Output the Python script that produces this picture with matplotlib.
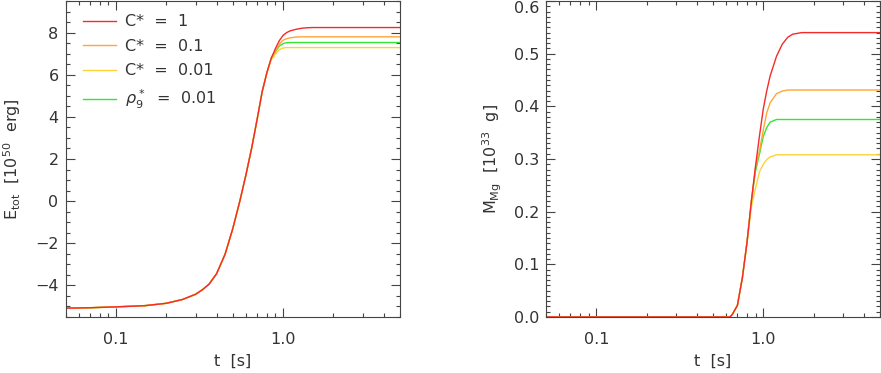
import matplotlib
matplotlib.use('Agg')
import matplotlib.pyplot as plt
import numpy as np
from matplotlib.ticker import MultipleLocator, FixedLocator, NullFormatter, FormatStrFormatter, FuncFormatter

# time axis [s], shared by both panels
t = [0.05, 0.07, 0.1, 0.15, 0.2, 0.25, 0.3, 0.33, 0.36, 0.4, 0.45, 0.5, 0.55, 0.6,
     0.63, 0.65, 0.7, 0.75, 0.8, 0.85, 0.88, 0.9, 0.95, 1.0, 1.05, 1.1, 1.2, 1.3,
     1.4, 1.5, 1.7, 2.0, 3.0, 5.0]

# total energy [1e50 erg]
E_common = [-5.08, -5.06, -5.02, -4.96, -4.85, -4.67, -4.42, -4.20, -3.95, -3.45, -2.52,
            -1.31, -0.03, 1.26, 2.05, 2.55, 3.90, 5.20, 6.10]
E_c1    = E_common + [6.80, 7.06, 7.25, 7.62, 7.87, 8.00, 8.08, 8.16, 8.21, 8.23, 8.24, 8.24, 8.24, 8.24, 8.24]
E_c01   = E_common + [6.78, 6.99, 7.13, 7.45, 7.64, 7.71, 7.75, 7.79, 7.80, 7.80, 7.80, 7.80, 7.80, 7.80, 7.80]
E_c001  = E_common + [6.73, 6.85, 6.98, 7.19, 7.27, 7.29, 7.29, 7.29, 7.29, 7.29, 7.29, 7.29, 7.29, 7.29, 7.29]
E_rho   = E_common + [6.77, 6.95, 7.09, 7.36, 7.48, 7.52, 7.53, 7.53, 7.53, 7.53, 7.53, 7.53, 7.53, 7.53, 7.53]

# Mg mass [1e33 g]
M_common = [0.0, 0.0, 0.0, 0.0, 0.0, 0.0, 0.0, 0.0, 0.0, 0.0, 0.0, 0.0, 0.0, 0.0,
            0.0, 0.004, 0.022, 0.075, 0.143]
M_c1   = M_common + [0.222, 0.262, 0.288, 0.345, 0.395, 0.430, 0.458, 0.495, 0.518, 0.531, 0.537, 0.540, 0.540, 0.540, 0.540]
M_c01  = M_common + [0.222, 0.260, 0.285, 0.316, 0.355, 0.388, 0.407, 0.424, 0.429, 0.431, 0.431, 0.431, 0.431, 0.431, 0.431]
M_c001 = M_common + [0.210, 0.232, 0.245, 0.276, 0.290, 0.299, 0.304, 0.308, 0.308, 0.308, 0.308, 0.308, 0.308, 0.308, 0.308]
M_rho  = M_common + [0.220, 0.257, 0.278, 0.310, 0.343, 0.360, 0.370, 0.375, 0.375, 0.375, 0.375, 0.375, 0.375, 0.375, 0.375]

labels = ['C*  =  1', 'C*  =  0.1', 'C*  =  0.01', r'$\rho_9^*$  =  0.01']
colors = ['#f52a2a', '#ffa634', '#ffd236', '#33e633']

plt.rcParams['font.family'] = 'DejaVu Sans'
plt.rcParams['font.size'] = 11.5
plt.rcParams['text.color'] = '#333333'
plt.rcParams['axes.labelcolor'] = '#333333'
plt.rcParams['xtick.color'] = '#444444'
plt.rcParams['ytick.color'] = '#444444'
plt.rcParams['xtick.labelcolor'] = '#333333'
plt.rcParams['ytick.labelcolor'] = '#333333'

fig = plt.figure(figsize=(8.81, 3.73), dpi=100)
ax1 = fig.add_axes([65.5/881, 56/373, 334.5/881, 316/373])
ax2 = fig.add_axes([546/881, 56/373, 334/881, 316/373])


def style(ax):
    ax.set_xscale('log')
    ax.set_xlim(0.05, 5)
    ax.xaxis.set_major_locator(FixedLocator([0.1, 1.0]))
    ax.xaxis.set_major_formatter(FormatStrFormatter('%.1f'))
    ax.xaxis.set_minor_locator(FixedLocator([0.05, 0.06, 0.07, 0.08, 0.09, 0.2, 0.3, 0.4, 0.5,
                                             0.6, 0.7, 0.8, 0.9, 2, 3, 4, 5]))
    ax.xaxis.set_minor_formatter(NullFormatter())
    ax.tick_params(which='both', direction='in', top=True, right=True, width=0.8)
    ax.tick_params(which='major', length=6.5)
    ax.tick_params(which='minor', length=3)
    ax.tick_params(axis='x', pad=11)
    ax.tick_params(axis='y', pad=5)
    for s in ax.spines.values():
        s.set_color('#444444')
        s.set_linewidth(0.8)
    ax.set_xlabel('t  [s]', labelpad=5)


# left panel: total energy
order = [3, 2, 1, 0]
E_all = [E_c1, E_c01, E_c001, E_rho]
M_all = [M_c1, M_c01, M_c001, M_rho]
handles = [None] * 4
for i in order:
    handles[i], = ax1.plot(t, E_all[i], color=colors[i], lw=1.0, label=labels[i])
style(ax1)
ax1.set_ylim(-5.5, 9.5)
ax1.yaxis.set_major_locator(MultipleLocator(2))
ax1.yaxis.set_minor_locator(MultipleLocator(0.5))
ax1.set_ylabel(r'E$_{\rm tot}$  [10$^{50}$  erg]', labelpad=9)
ax1.legend(handles=handles, loc='upper left', bbox_to_anchor=(0.052, 0.958),
           frameon=False, borderpad=0, borderaxespad=0, handlelength=2.1,
           handletextpad=0.55, labelspacing=0.6, fontsize=11.5)

# right panel: Mg mass
for i in order:
    ax2.plot(t, M_all[i], color=colors[i], lw=1.0)
style(ax2)
ax2.set_ylim(0, 0.6)
ax2.yaxis.set_major_locator(MultipleLocator(0.1))
ax2.yaxis.set_minor_locator(MultipleLocator(0.01))
# top label is drawn separately, shifted down so it stays inside the figure
ax2.yaxis.set_major_formatter(FuncFormatter(lambda v, p: '' if v > 0.55 else '%.1f' % v))
ax2.text(-0.02, 1.0, '0.6', transform=ax2.transAxes, ha='right', va='top',
         fontsize=11.5, color='#333333')
ax2.set_ylabel(r'M$_{\rm Mg}$  [10$^{33}$  g]', labelpad=7)

fig.savefig('out.png', dpi=100)
